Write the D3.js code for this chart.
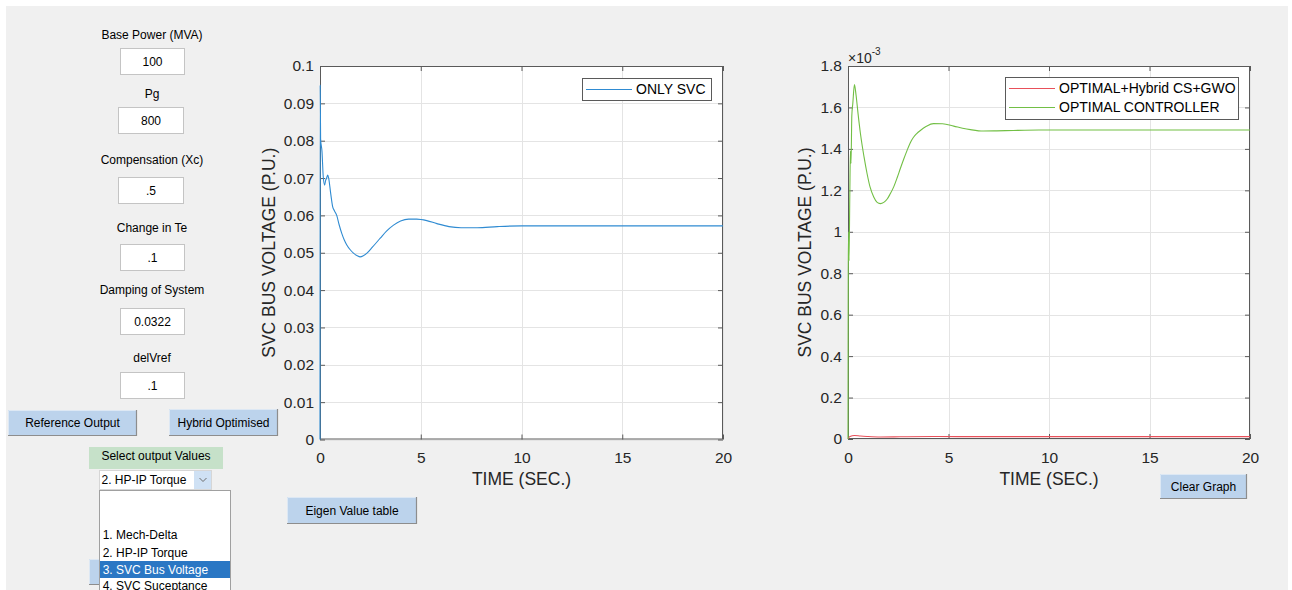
<!DOCTYPE html>
<html>
<head>
<meta charset="utf-8">
<script src="https://cdn.jsdelivr.net/npm/d3@7"></script>
<style>
  html, body { margin: 0; padding: 0; background: #ffffff; }
  svg { display: block; font-family: "Liberation Sans", Arial, sans-serif; }
</style>
</head>
<body>
<script>
// ---- Data -------------------------------------------------------------
// Time axis ticks shared by both plots (seconds)
const timeTicks = [0, 5, 10, 15, 20];

// SVC bus voltage with SVC only (p.u.)
const svcTime = [0, 0.01, 0.03, 0.1, 0.16, 0.23, 0.28, 0.33, 0.38, 0.43, 0.53, 0.63, 0.72, 0.83,
  0.95, 1.08, 1.2, 1.33, 1.5, 1.66, 1.85, 1.99, 2.15, 2.33, 2.6, 2.99, 3.3, 3.65, 4.0, 4.4,
  4.8, 5.3, 5.8, 6.4, 7.0, 7.8, 8.8, 10, 12, 15, 20];
const svcOnly = [0, 0.0948, 0.0805, 0.077, 0.0704, 0.0681, 0.0694, 0.0700, 0.0708, 0.0700, 0.0659,
  0.0623, 0.0612, 0.0600, 0.0575, 0.0552, 0.0535, 0.0521, 0.0508, 0.0499, 0.0492, 0.0489, 0.0492,
  0.0499, 0.0515, 0.0539, 0.0558, 0.0574, 0.0585, 0.0590, 0.0590, 0.0586, 0.0578, 0.0570, 0.0567,
  0.0567, 0.0570, 0.0572, 0.0572, 0.0572, 0.0572];
const svcTicks = [0, 0.01, 0.02, 0.03, 0.04, 0.05, 0.06, 0.07, 0.08, 0.09, 0.1];

// SVC bus voltage with the optimal controller (p.u.)
const optTime = [0, 0.006, 0.012, 0.03, 0.05, 0.09, 0.12, 0.15, 0.19, 0.24, 0.32, 0.4, 0.5, 0.62,
  0.8, 0.95, 1.1, 1.28, 1.45, 1.61, 1.78, 1.95, 2.1, 2.28, 2.45, 2.6, 2.77, 2.94, 3.1, 3.25, 3.42,
  3.6, 3.9, 4.25, 4.7, 5.26, 5.7, 6.09, 6.73, 7.4, 8.23, 9.5, 11, 14, 20];
const optController = [0, 0.45e-3, 0.80e-3, 1.00e-3, 0.86e-3, 1.18e-3, 1.39e-3, 1.33e-3, 1.56e-3,
  1.62e-3, 1.71e-3, 1.66e-3, 1.57e-3, 1.473e-3, 1.36e-3, 1.28e-3, 1.215e-3, 1.168e-3, 1.142e-3,
  1.136e-3, 1.142e-3, 1.158e-3, 1.183e-3, 1.218e-3, 1.262e-3, 1.304e-3, 1.350e-3, 1.393e-3,
  1.430e-3, 1.455e-3, 1.474e-3, 1.489e-3, 1.509e-3, 1.522e-3, 1.521e-3, 1.510e-3, 1.500e-3,
  1.493e-3, 1.486e-3, 1.487e-3, 1.489e-3, 1.491e-3, 1.491e-3, 1.491e-3, 1.491e-3];

// SVC bus voltage with optimal + hybrid CS+GWO tuning (p.u.)
const hybridTime = [0, 0.1, 0.32, 0.62, 0.95, 1.61, 2.28, 2.94, 4.25, 6.73, 10, 20];
const hybridCsGwo = [0.002e-3, 0.012e-3, 0.0168e-3, 0.0142e-3, 0.0122e-3, 0.0098e-3, 0.0102e-3,
  0.0112e-3, 0.0118e-3, 0.0114e-3, 0.0115e-3, 0.0115e-3];
const optTicks = [0, 0.2e-3, 0.4e-3, 0.6e-3, 0.8e-3, 1.0e-3, 1.2e-3, 1.4e-3, 1.6e-3, 1.8e-3];

// Panel inputs
const inputLabels = ["Base Power (MVA)", "Pg", "Compensation (Xc)", "Change in Te", "Damping of System", "delVref"];
const inputValues = ["100", "800", ".5", ".1", "0.0322", ".1"];
const outputChoices = ["1. Mech-Delta", "2. HP-IP Torque", "3. SVC Bus Voltage", "4. SVC Suceptance"];

// ---- Page -------------------------------------------------------------
const W = 1292, H = 590;
const FONT = '"Liberation Sans", Arial, sans-serif';
const svg = d3.select("body").append("svg").attr("width", W).attr("height", H);

svg.append("rect").attr("width", W).attr("height", H).attr("fill", "#ffffff");
svg.append("rect").attr("x", 6).attr("y", 6).attr("width", 1282).attr("height", H - 6).attr("fill", "#f0f0f0");

// text helper: y is the visual centre of the capitals
function label(g, x, yc, txt, size, anchor, color) {
  return g.append("text")
    .attr("x", x).attr("y", yc + 0.355 * size)
    .attr("font-size", size).attr("text-anchor", anchor || "middle")
    .attr("fill", color || "#000").attr("font-family", FONT)
    .text(txt);
}

function button(g, x, y, w, h, txt) {
  const b = g.append("g");
  b.append("rect").attr("x", x).attr("y", y).attr("width", w).attr("height", h).attr("fill", "#bcd3ec");
  b.append("path").attr("d", `M${x + 0.5},${y + h} V${y + 0.5} H${x + w}`).attr("stroke", "#dde8f4").attr("fill", "none");
  b.append("path").attr("d", `M${x},${y + h - 0.5} H${x + w - 0.5} V${y}`).attr("stroke", "#8d8d8d").attr("fill", "none").attr("stroke-width", 1.2);
  if (txt) label(b, x + w / 2, y + h / 2, txt, 12);
}

// ---- Left panel controls --------------------------------------------
const panel = svg.append("g");
const labelY = [34.5, 93.5, 160, 227.5, 290, 357.5];
const boxes = [
  { x: 120, y: 48, w: 64 }, { x: 118, y: 107, w: 65 }, { x: 118, y: 177, w: 65 },
  { x: 120, y: 244, w: 64 }, { x: 120, y: 308, w: 64 }, { x: 120, y: 372, w: 64 }
];
inputLabels.forEach((t, i) => {
  label(panel, 152, labelY[i], t, 12);
  const b = boxes[i];
  panel.append("rect").attr("x", b.x + 0.5).attr("y", b.y + 0.5).attr("width", b.w).attr("height", 26)
    .attr("fill", "#ffffff").attr("stroke", "#c4c4c4");
  label(panel, b.x + b.w / 2 + 0.5, b.y + 13.5, inputValues[i], 12);
});

button(panel, 8, 410, 129, 26, "Reference Output");
button(panel, 169, 409, 109, 27, "Hybrid Optimised");
button(panel, 287, 497, 130, 27, "Eigen Value table");
button(panel, 89, 559, 14, 26, null);

// output selector
panel.append("rect").attr("x", 89).attr("y", 447).attr("width", 134).attr("height", 22).attr("fill", "#c6e1c9");
label(panel, 156, 455.5, "Select output Values", 12);
panel.append("rect").attr("x", 99.5).attr("y", 470.5).attr("width", 112).attr("height", 19)
  .attr("fill", "#ffffff").attr("stroke", "#d6d6d6");
panel.append("rect").attr("x", 194).attr("y", 471).attr("width", 17).attr("height", 18).attr("fill", "#cfe1f4");
panel.append("path").attr("d", "M199.5,478 L203,481.5 L206.5,478").attr("stroke", "#6d6d6d").attr("fill", "none");
label(panel, 101.5, 480, "2. HP-IP Torque", 12, "start");

// open list of choices (runs past the bottom of the window)
const list = panel.append("g");
list.append("rect").attr("x", 99.5).attr("y", 490.5).attr("width", 131).attr("height", 110)
  .attr("fill", "#ffffff").attr("stroke", "#a0a0a0");
const itemY = [535, 552.3, 569.5, 586.2];
list.append("rect").attr("x", 100).attr("y", 561).attr("width", 130).attr("height", 17).attr("fill", "#2a77c4");
outputChoices.forEach((t, i) => {
  label(list, 102.7, itemY[i], t, 12, "start", i === 2 ? "#ffffff" : "#000000");
});

button(panel, 1160, 474, 87, 25, "Clear Graph");

// ---- Plots ------------------------------------------------------------
function drawPlot(cfg) {
  const g = svg.append("g");
  const { left, top, width, height } = cfg;
  const x = d3.scaleLinear().domain([0, 20]).range([left, left + width]);
  const y = d3.scaleLinear().domain(cfg.yDomain).range([top + height, top]);

  g.append("rect").attr("x", left).attr("y", top).attr("width", width).attr("height", height).attr("fill", "#ffffff");

  // grid
  const grid = g.append("g").attr("stroke", "#e4e4e4").attr("stroke-width", 1);
  timeTicks.forEach(t => grid.append("line")
    .attr("x1", Math.round(x(t)) + 0.5).attr("x2", Math.round(x(t)) + 0.5)
    .attr("y1", top).attr("y2", top + height));
  cfg.yTicks.forEach(v => grid.append("line")
    .attr("y1", Math.round(y(v)) + 0.5).attr("y2", Math.round(y(v)) + 0.5)
    .attr("x1", left).attr("x2", left + width));

  // axes with inward ticks on all four sides
  const tickLen = 5;
  const axisStyle = sel => {
    sel.select(".domain").remove();
    sel.selectAll(".tick line").attr("stroke", "#5a5a5a");
    sel.selectAll("text").attr("font-family", FONT).attr("font-size", 15.5).attr("fill", "#262626");
  };
  g.append("g").attr("transform", `translate(0,${top + height})`)
    .call(d3.axisBottom(x).tickValues(timeTicks).tickSizeInner(-tickLen).tickSizeOuter(0).tickPadding(12.5).tickFormat(d3.format("d")))
    .call(axisStyle);
  g.append("g").attr("transform", `translate(0,${top})`)
    .call(d3.axisTop(x).tickValues(timeTicks).tickSizeInner(-tickLen).tickSizeOuter(0).tickFormat(""))
    .call(axisStyle);
  g.append("g").attr("transform", `translate(${left},0)`)
    .call(d3.axisLeft(y).tickValues(cfg.yTicks).tickSizeInner(-tickLen).tickSizeOuter(0).tickPadding(6).tickFormat(cfg.yFormat))
    .call(axisStyle);
  g.append("g").attr("transform", `translate(${left + width},0)`)
    .call(d3.axisRight(y).tickValues(cfg.yTicks).tickSizeInner(-tickLen).tickSizeOuter(0).tickFormat(""))
    .call(axisStyle);

  g.append("rect").attr("x", left + 0.5).attr("y", top + 0.5).attr("width", width - 1).attr("height", height - 1)
    .attr("fill", "none").attr("stroke", "#5a5a5a").attr("stroke-width", 1);

  // series, drawn over the axes box
  const clip = "clip" + cfg.id;
  g.append("clipPath").attr("id", clip).append("rect")
    .attr("x", left - 1).attr("y", top - 1).attr("width", width + 2).attr("height", height + 2);
  cfg.series.forEach(s => {
    const pts = s.t.map((t, i) => [t, s.v[i]]);
    g.append("path")
      .attr("clip-path", `url(#${clip})`)
      .attr("d", d3.line().x(d => x(d[0])).y(d => y(d[1])).curve(d3.curveMonotoneX)(pts))
      .attr("fill", "none").attr("stroke", s.color).attr("stroke-width", 1.1);
  });

  // axis titles
  label(g, left + width / 2, top + height + 39.5, "TIME (SEC.)", 17.5, "middle", "#262626");
  g.append("text")
    .attr("transform", `translate(${cfg.yLabelX + 0.355 * 17.5},${top + height / 2}) rotate(-90)`)
    .attr("text-anchor", "middle").attr("font-size", 17.5).attr("font-family", FONT).attr("fill", "#262626")
    .text("SVC BUS VOLTAGE (P.U.)");

  // legend
  const lg = cfg.legend;
  g.append("rect").attr("x", lg.x + 0.5).attr("y", lg.y + 0.5).attr("width", lg.w).attr("height", lg.h)
    .attr("fill", "#ffffff").attr("stroke", "#5a5a5a");
  cfg.series.forEach((s, i) => {
    const ly = lg.y + 11.5 + i * 19;
    g.append("line").attr("x1", lg.x + 4).attr("x2", lg.x + 50).attr("y1", ly).attr("y2", ly)
      .attr("stroke", s.color).attr("stroke-width", 1.1);
    label(g, lg.x + 54, ly, s.name, 14, "start", "#000");
  });
  return { x, y, g };
}

drawPlot({
  id: "svc", left: 320, top: 66, width: 403, height: 373.5,
  yDomain: [0, 0.1], yTicks: svcTicks, yFormat: d => String(+d.toFixed(2)),
  yLabelX: 269,
  series: [{ name: "ONLY SVC", t: svcTime, v: svcOnly, color: "#2f8bd2" }],
  legend: { x: 582, y: 78, w: 129, h: 22 }
});

const opt = drawPlot({
  id: "opt", left: 848, top: 66, width: 402, height: 373,
  yDomain: [0, 1.8e-3], yTicks: optTicks, yFormat: d => String(Math.round(d * 1e4) / 10),
  yLabelX: 805,
  series: [
    { name: "OPTIMAL+Hybrid CS+GWO", t: hybridTime, v: hybridCsGwo, color: "#e8505a" },
    { name: "OPTIMAL CONTROLLER", t: optTime, v: optController, color: "#72bf45" }
  ],
  legend: { x: 1005, y: 77, w: 233, h: 42 }
});

// exponent multiplier of the right-hand y axis
const ex = opt.g.append("text").attr("x", 848).attr("y", 63).attr("font-family", FONT).attr("fill", "#262626");
ex.append("tspan").attr("font-size", 14).text("\u00d710");
ex.append("tspan").attr("font-size", 10).attr("dy", -8).text("-3");
</script>
</body>
</html>
